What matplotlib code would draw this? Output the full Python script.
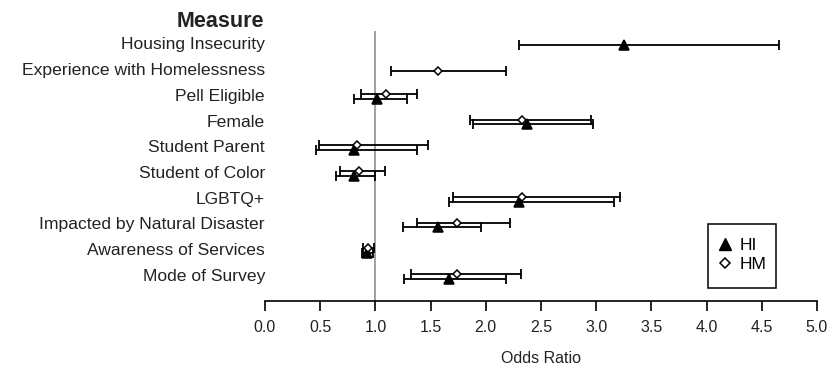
import matplotlib.pyplot as plt
from matplotlib.lines import Line2D
from matplotlib.patches import Rectangle
import numpy as np

plt.rcParams['font.family'] = ['Liberation Sans', 'DejaVu Sans']

measures = ['Housing Insecurity', 'Experience with Homelessness', 'Pell Eligible',
            'Female', 'Student Parent', 'Student of Color', 'LGBTQ+',
            'Impacted by Natural Disaster', 'Awareness of Services', 'Mode of Survey']
nan = np.nan
hi_or = [3.25, nan, 1.01, 2.37, 0.81, 0.81, 2.30, 1.57, 0.92, 1.67]
hi_lo = [2.30, nan, 0.81, 1.88, 0.46, 0.64, 1.67, 1.25, 0.88, 1.26]
hi_hi = [4.66, nan, 1.29, 2.97, 1.38, 1.00, 3.16, 1.96, 0.98, 2.18]
hm_or = [nan, 1.57, 1.10, 2.33, 0.83, 0.85, 2.33, 1.74, 0.93, 1.74]
hm_lo = [nan, 1.14, 0.87, 1.86, 0.49, 0.68, 1.70, 1.38, 0.89, 1.32]
hm_hi = [nan, 2.18, 1.38, 2.95, 1.48, 1.09, 3.22, 2.22, 0.99, 2.32]
xticks = [0.0, 0.5, 1.0, 1.5, 2.0, 2.5, 3.0, 3.5, 4.0, 4.5, 5.0]

W, H = 828, 373
fig = plt.figure(figsize=(W / 100, H / 100), dpi=100)
# axes spans x=0..5 between px 265 and 817, rows from px 20 to 301
ax = fig.add_axes([265 / W, 1 - 301 / H, (817 - 265) / W, (301 - 20) / H])

rows = np.arange(len(measures))
both = [not (np.isnan(a) or np.isnan(b)) for a, b in zip(hi_or, hm_or)]
off = np.where(both, 0.09, 0.0)

def draw(est, lo, hi, y, marker, face, ms):
    est, lo, hi = np.array(est), np.array(lo), np.array(hi)
    m = ~np.isnan(est)
    ax.errorbar(est[m], y[m], xerr=[est[m] - lo[m], hi[m] - est[m]], fmt='none',
                ecolor='black', elinewidth=1.3, capsize=3.8, capthick=1.3, zorder=2)
    ax.plot(est[m], y[m], linestyle='none', marker=marker, ms=ms, mfc=face,
            mec='black', mew=1.1, zorder=3)

ax.axvline(1.0, ymin=0, ymax=(9.96 + 0.5) / (9.96 + 0.97), color='#a0a0a0', lw=1.4, zorder=1)
draw(hi_or, hi_lo, hi_hi, rows + off, '^', 'black', 6.5)
draw(hm_or, hm_lo, hm_hi, rows - off, 'D', 'white', 4.5)

ax.set_xlim(0, 5)
ax.set_ylim(9.96, -0.97)
for s in ['top', 'right', 'left']:
    ax.spines[s].set_visible(False)
ax.spines['bottom'].set_linewidth(1.2)
ax.set_yticks([])
ax.set_xticks(xticks)
ax.set_xticklabels(['%.1f' % t for t in xticks], fontsize=11.5, color='#222222')
ax.tick_params(axis='x', length=7, width=1.2, pad=7)
ax.set_xlabel('Odds Ratio', fontsize=11.5, color='#222222', labelpad=11)

for r, name in zip(rows, measures):
    ax.text(-0.0, r, name, ha='right', va='center', fontsize=12.6,
            color='#222222', clip_on=False)
ax.text(-0.01, -0.92, 'Measure', ha='right', va='center', fontsize=15.5,
        fontweight='bold', color='#222222', clip_on=False)

# legend box drawn by hand, entries in a frameless legend
fig.patches.append(Rectangle((708 / W, 1 - 288 / H), 68 / W, 64 / H, transform=fig.transFigure,
                             fill=False, edgecolor='black', lw=1.1))
handles = [Line2D([], [], linestyle='none', marker='^', ms=8.5, mfc='black', mec='black'),
           Line2D([], [], linestyle='none', marker='D', ms=5, mfc='white', mec='black', mew=1.1)]
fig.legend(handles, ['HI', 'HM'], loc='center left',
           bbox_to_anchor=(716 / W, 1 - 255 / H), fontsize=12.5, frameon=False,
           handlelength=1.0, handletextpad=0.35, labelspacing=0.25, borderpad=0,
           borderaxespad=0)

fig.savefig('out.png', dpi=100)
